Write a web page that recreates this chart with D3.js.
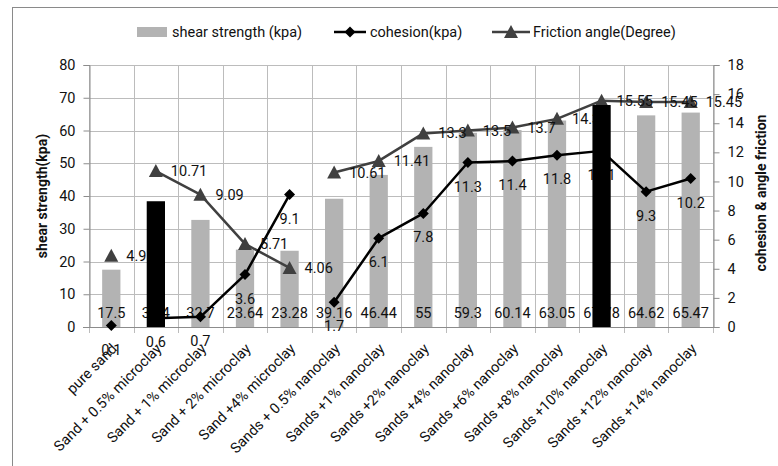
<!DOCTYPE html>
<html>
<head>
<meta charset="utf-8">
<script src="https://cdnjs.cloudflare.com/ajax/libs/d3/7.8.5/d3.min.js"></script>
<style>
  html, body { margin: 0; padding: 0; background: #fff; }
  svg { display: block; font-family: Roboto, "Liberation Sans", sans-serif; }
</style>
</head>
<body>
<svg id="chart" width="778" height="466"></svg>
<script>
// Soil mixes tested
const categories = [
  "pure sand",
  "Sand + 0.5% microclay",
  "Sand + 1% microclay",
  "Sand + 2% microclay",
  "Sand +4% microclay",
  "Sands + 0.5% nanoclay",
  "Sands +1% nanoclay",
  "Sands +2% nanoclay",
  "Sands +4% nanoclay",
  "Sands +6% nanoclay",
  "Sands +8% nanoclay",
  "Sands +10% nanoclay",
  "Sands +12% nanoclay",
  "Sands +14% nanoclay"
];
// Mix family of each category; lines are only joined within a family
const mixFamily = ["pure", "micro", "micro", "micro", "micro",
  "nano", "nano", "nano", "nano", "nano", "nano", "nano", "nano", "nano"];

const shearStrength = [17.5, 38.4, 32.7, 23.64, 23.28, 39.16, 46.44, 55, 59.3, 60.14, 63.05, 67.78, 64.62, 65.47];
const cohesion = [0.1, 0.6, 0.7, 3.6, 9.1, 1.7, 6.1, 7.8, 11.3, 11.4, 11.8, 12.1, 9.3, 10.2];
const frictionAngle = [4.9, 10.71, 9.09, 5.71, 4.06, 10.61, 11.41, 13.3, 13.5, 13.7, 14.3, 15.55, 15.45, 15.45];

const leftTicks = [0, 10, 20, 30, 40, 50, 60, 70, 80];
const rightTicks = [0, 2, 4, 6, 8, 10, 12, 14, 16, 18];

// Optimum mixes shown as solid black columns
const optimumMixes = new Set(["Sand + 0.5% microclay", "Sands +10% nanoclay"]);

const svg = d3.select("#chart");
const W = 778, H = 466;
const plot = { left: 89, right: 713, top: 65, bottom: 327 };
const FONT = 14.5;
const gridColor = "#bcbcbc";
const axisColor = "#8c8c8c";
const textColor = "#111";
const frictionColor = "#404040";
const barGray = "#b3b3b3";

// chart frame
svg.append("rect")
  .attr("x", 12.5).attr("y", 7.5)
  .attr("width", W + 20).attr("height", H + 20)
  .attr("fill", "#fff").attr("stroke", "#8a8a8a").attr("stroke-width", 1);

const xBand = d3.scaleBand().domain(categories).range([plot.left, plot.right]).padding(0);
const barW = xBand.bandwidth() * 0.41;
const cx = c => xBand(c) + xBand.bandwidth() / 2;
const yL = d3.scaleLinear().domain([0, 80]).range([plot.bottom, plot.top]);
const yR = d3.scaleLinear().domain([0, 18]).range([plot.bottom, plot.top]);

// horizontal gridlines (left axis ticks)
svg.append("g").selectAll("line").data(leftTicks).join("line")
  .attr("x1", plot.left).attr("x2", plot.right)
  .attr("y1", d => Math.round(yL(d)) + 0.5).attr("y2", d => Math.round(yL(d)) + 0.5)
  .attr("stroke", gridColor).attr("stroke-width", 1);

// vertical gridlines at category boundaries, extended as tick marks
const bounds = categories.map(c => xBand(c)).concat([plot.right]);
svg.append("g").selectAll("line").data(bounds).join("line")
  .attr("x1", d => Math.round(d) + 0.5).attr("x2", d => Math.round(d) + 0.5)
  .attr("y1", plot.top).attr("y2", plot.bottom + 6)
  .attr("stroke", gridColor).attr("stroke-width", 1);

// left axis
const axL = svg.append("g").attr("transform", `translate(${plot.left + 0.5},0)`)
  .call(d3.axisLeft(yL).tickValues(leftTicks).tickSize(6).tickPadding(8).tickFormat(d3.format("d")));
axL.select(".domain").attr("stroke", axisColor);
axL.selectAll(".tick line").attr("stroke", axisColor);
axL.selectAll(".tick text").attr("font-size", FONT).attr("fill", textColor).attr("font-family", "Roboto");

// right axis
const axR = svg.append("g").attr("transform", `translate(${plot.right + 0.5},0)`)
  .call(d3.axisRight(yR).tickValues(rightTicks).tickSize(6).tickPadding(8).tickFormat(d3.format("d")));
axR.select(".domain").attr("stroke", axisColor);
axR.selectAll(".tick line").attr("stroke", axisColor);
axR.selectAll(".tick text").attr("font-size", FONT).attr("fill", textColor).attr("font-family", "Roboto");

// bottom axis line
svg.append("line")
  .attr("x1", plot.left - 6).attr("x2", plot.right + 6)
  .attr("y1", plot.bottom + 0.5).attr("y2", plot.bottom + 0.5)
  .attr("stroke", axisColor);

// axis titles
svg.append("text")
  .attr("transform", `translate(47,196) rotate(-90)`)
  .attr("text-anchor", "middle").attr("font-weight", "bold").attr("font-size", 14)
  .attr("fill", textColor).text("shear strength(kpa)");
svg.append("text")
  .attr("transform", `translate(766,193) rotate(-90)`)
  .attr("text-anchor", "middle").attr("font-weight", "bold").attr("font-size", 14)
  .attr("fill", textColor).text("cohesion & angle friction");

// category labels
svg.append("g").selectAll("text").data(categories).join("text")
  .attr("transform", c => `translate(${cx(c) + 3},${plot.bottom + 19}) rotate(-45)`)
  .attr("text-anchor", "end").attr("dy", "0.35em")
  .attr("font-size", FONT).attr("fill", textColor)
  .text(c => c);

const rows = categories.map((c, i) => ({
  c, fam: mixFamily[i], shear: shearStrength[i], coh: cohesion[i], fri: frictionAngle[i]
}));

// gray columns
svg.append("g").selectAll("rect").data(rows.filter(r => !optimumMixes.has(r.c))).join("rect")
  .attr("x", r => cx(r.c) - barW / 2).attr("width", barW)
  .attr("y", r => yL(r.shear)).attr("height", r => yL(0) - yL(r.shear))
  .attr("fill", barGray);

// column value labels
svg.append("g").selectAll("text").data(rows).join("text")
  .attr("x", r => cx(r.c)).attr("y", plot.bottom - 9)
  .attr("text-anchor", "middle").attr("font-size", FONT).attr("fill", textColor)
  .text(r => String(r.shear));

const families = d3.groups(rows, r => r.fam);

// friction angle line
const lineFri = d3.line().x(r => cx(r.c)).y(r => yR(r.fri));
svg.append("g").selectAll("path").data(families).join("path")
  .attr("d", ([, rs]) => lineFri(rs))
  .attr("fill", "none").attr("stroke", frictionColor).attr("stroke-width", 2.5)
  .attr("stroke-linejoin", "round");

// cohesion line
const lineCoh = d3.line().x(r => cx(r.c)).y(r => yR(r.coh));
svg.append("g").selectAll("path").data(families).join("path")
  .attr("d", ([, rs]) => lineCoh(rs))
  .attr("fill", "none").attr("stroke", "#000").attr("stroke-width", 2.5)
  .attr("stroke-linejoin", "round");

const triPath = "M0,-7L7,6L-7,6Z";
const diaPath = "M0,-5.5L5.5,0L0,5.5L-5.5,0Z";

svg.append("g").selectAll("path").data(rows).join("path")
  .attr("transform", r => `translate(${cx(r.c)},${yR(r.fri)})`)
  .attr("d", triPath).attr("fill", frictionColor);

svg.append("g").selectAll("path").data(rows).join("path")
  .attr("transform", r => `translate(${cx(r.c)},${yR(r.coh)})`)
  .attr("d", diaPath).attr("fill", "#000");

// friction labels (right of marker)
svg.append("g").selectAll("text").data(rows).join("text")
  .attr("x", r => cx(r.c) + 15).attr("y", r => yR(r.fri) + 5)
  .attr("font-size", FONT).attr("fill", textColor)
  .text(r => String(r.fri));

// cohesion labels (below marker)
svg.append("g").selectAll("text").data(rows).join("text")
  .attr("x", r => cx(r.c)).attr("y", r => yR(r.coh) + 29)
  .attr("text-anchor", "middle").attr("font-size", FONT).attr("fill", textColor)
  .text(r => String(r.coh));

// optimum columns drawn in front
svg.append("g").selectAll("rect").data(rows.filter(r => optimumMixes.has(r.c))).join("rect")
  .attr("x", r => cx(r.c) - barW / 2).attr("width", barW)
  .attr("y", r => yL(r.shear)).attr("height", r => yL(0) - yL(r.shear))
  .attr("fill", "#000");

// legend
const legend = svg.append("g").attr("font-size", FONT).attr("fill", textColor);
const ly = 32;
legend.append("rect").attr("x", 137).attr("y", ly - 5).attr("width", 30).attr("height", 10).attr("fill", barGray);
legend.append("text").attr("x", 172).attr("y", ly + 5).text("shear strength (kpa)");
legend.append("line").attr("x1", 334).attr("x2", 366).attr("y1", ly).attr("y2", ly)
  .attr("stroke", "#000").attr("stroke-width", 2.5);
legend.append("path").attr("transform", `translate(350,${ly})`).attr("d", diaPath).attr("fill", "#000");
legend.append("text").attr("x", 370).attr("y", ly + 5).text("cohesion(kpa)");
legend.append("line").attr("x1", 492).attr("x2", 530).attr("y1", ly).attr("y2", ly)
  .attr("stroke", frictionColor).attr("stroke-width", 2.5);
legend.append("path").attr("transform", `translate(511,${ly})`).attr("d", triPath).attr("fill", frictionColor);
legend.append("text").attr("x", 533).attr("y", ly + 5).text("Friction angle(Degree)");
</script>
</body>
</html>
